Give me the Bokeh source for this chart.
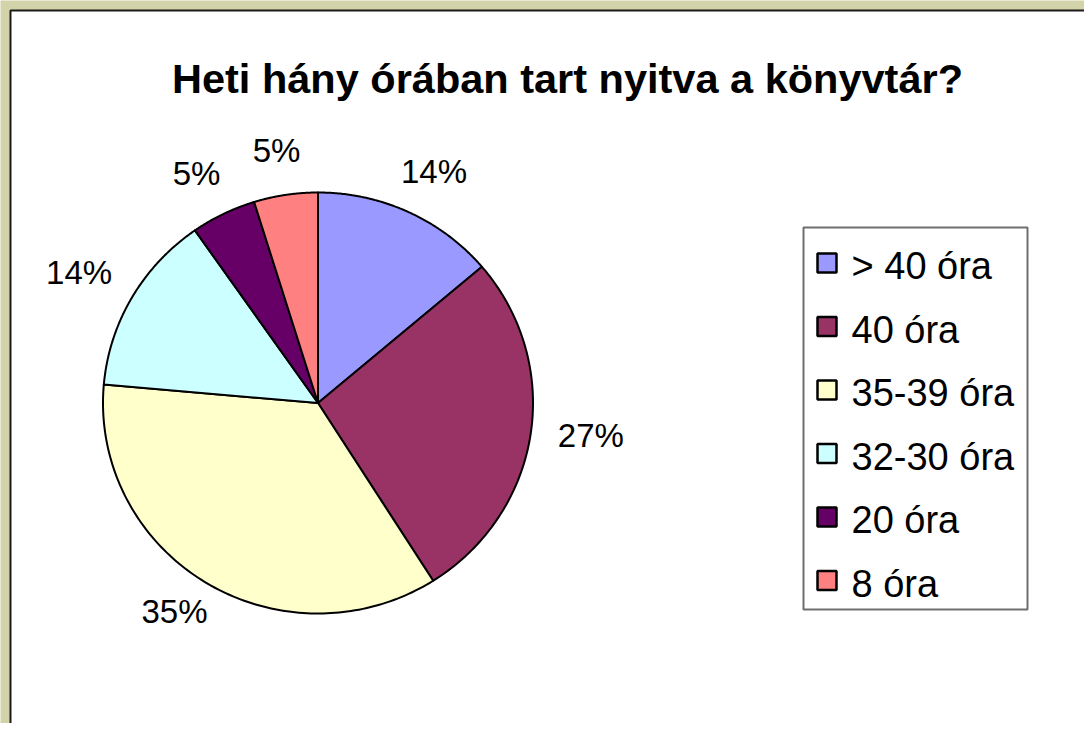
import numpy as np
from bokeh.plotting import figure
from bokeh.models import Range1d
from bokeh.core.properties import value
from bokeh.embed import file_html
from bokeh.resources import INLINE

# ---- data ----
title = "Heti hány órában tart nyitva a könyvtár?"
categories = ["> 40 óra", "40 óra", "35-39 óra", "32-30 óra", "20 óra", "8 óra"]
shares = [13.8, 27.2, 35.4, 13.9, 4.9, 4.8]
colors = ["#9999FF", "#993366", "#FFFFCC", "#CCFFFF", "#660066", "#FF8080"]

W, H = 1084, 723
FONT = "Liberation Sans"

def fy(page_y):
    return H - page_y

def fx(page_x):
    return page_x

p = figure(width=W, height=H, x_range=Range1d(0, W), y_range=Range1d(0, H),
           output_backend="svg", toolbar_location=None, min_border=0,
           x_axis_type=None, y_axis_type=None,
           background_fill_color="#d2d3a9", border_fill_color="#d2d3a9",
           outline_line_color=None)
p.grid.visible = False

# white chart area
p.quad(left=fx(10), right=W + 20, top=fy(10), bottom=-20,
       fill_color="white", line_color="#1a1a1a", line_width=2)

# title
p.text(x=[fx(567)], y=[fy(78)], text=[title], text_font=value(FONT),
       text_font_size="41.5px", text_font_style="bold", text_color="black",
       text_align="center", text_baseline="alphabetic")

# ---- pie (slightly elliptical, as in the original) ----
cx, cy = 317.5, 402.5     # page coords
rx, ry = 215.0, 210.5
vals = np.array(shares, dtype=float)
cum = np.concatenate([[0.0], np.cumsum(vals)]) / vals.sum()
xs, ys = [], []
for i in range(len(vals)):
    t = np.linspace(cum[i], cum[i + 1], 120) * 2 * np.pi  # clockwise from top
    px = cx + rx * np.sin(t)
    py = cy - ry * np.cos(t)
    xs.append([fx(cx)] + list(fx(px)))
    ys.append([fy(cy)] + list(fy(py)))
p.patches(xs=xs, ys=ys, fill_color=colors, line_color="black", line_width=2,
          line_join="round")

# percentage labels
mid = (cum[:-1] + cum[1:]) / 2 * 2 * np.pi
lx = cx + 276 * np.sin(mid)
ly = cy - 250 * np.cos(mid) - 5
labels = [f"{round(v):.0f}%" for v in vals]
p.text(x=list(fx(lx)), y=list(fy(ly)), text=labels, text_font=value(FONT),
       text_font_size="33px", text_color="black", text_align="center",
       text_baseline="middle")

# ---- legend ----
p.quad(left=fx(803), right=fx(1027), top=fy(227), bottom=fy(609),
       fill_color="white", line_color="#6e6e6e", line_width=2)
item_y = np.array([262.5 + 63.5 * i for i in range(len(categories))])
p.rect(x=[fx(826.5)] * len(categories), y=list(fy(item_y)), width=19, height=19,
       fill_color=colors, line_color="black", line_width=2.5)
p.text(x=[fx(851)] * len(categories), y=list(fy(item_y + 3)), text=categories,
       text_font=value(FONT), text_font_size="38px", text_color="black",
       text_align="left", text_baseline="alphabetic")

open("out.html", "w").write(file_html(p, INLINE))
